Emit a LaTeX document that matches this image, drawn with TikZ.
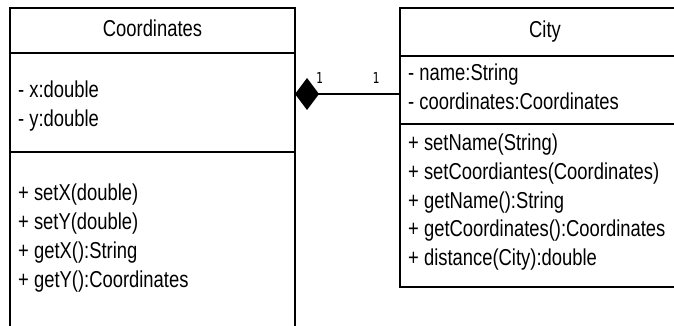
\documentclass[tikz,border=0pt]{standalone}
\usepackage{fontspec}
\setmainfont{Liberation Sans}[FakeStretch=0.8]
\newfontfamily\multfont{DejaVu Sans Mono}[FakeStretch=0.75]
\usetikzlibrary{arrows.meta}

\begin{document}
\begin{tikzpicture}[
    x=1pt, y=-1pt,
    font=\fontsize{23}{28.7}\selectfont,
    % Compartment styles
    part/.style={draw, line width=1.5pt, anchor=north west, inner sep=0pt, outer sep=0pt},
    members/.style={anchor=base west, align=left, inner sep=0pt},
    % Connector styles
    mult/.style={font=\multfont\fontsize{15}{17}\selectfont, inner sep=0pt},
    composition/.style={{Diamond[length=24pt,width=32pt]}-, line width=1.5pt}
]
\clip (0,0) rectangle (674,325);
\fill[white] (0,0) rectangle (674,325);

% --- Coordinates ---
\node[part, minimum width=285pt, minimum height=45pt, text depth=4pt] (coordTitle) at (10,8) {Coordinates};
\node[part, minimum width=285pt, minimum height=99pt] (coordAttrs) at (coordTitle.south west) {};
\node[part, minimum width=285pt, minimum height=200pt] (coordOps) at (coordAttrs.south west) {};
% base anchor sits on the last line
\node[members] (coordAttrText) at (18,126) {- x:double\\- y:double};
\node[members] (coordOpsText) at (18,287) {+ setX(double)\\+ setY(double)\\+ getX():String\\+ getY():Coordinates};

% --- City ---
\node[part, minimum width=290pt, minimum height=48pt] (cityTitle) at (400,8) {City};
\node[part, minimum width=290pt, minimum height=68pt] (cityAttrs) at (cityTitle.south west) {};
\node[part, minimum width=290pt, minimum height=163pt] (cityOps) at (cityAttrs.south west) {};
\node[members] (cityAttrText) at (408,109) {- name:String\\- coordinates:Coordinates};
\node[members] (cityOpsText) at (408,265.5) {+ setName(String)\\+ setCoordiantes(Coordinates)\\+ getName():String\\+ getCoordinates():Coordinates\\+ distance(City):double};

% --- Composition ---
\coordinate (link) at ([yshift=-4pt]cityAttrs.west);
\draw[composition] (coordAttrs.east |- link) -- (link);
\node[mult] (multCoord) at (319.5,78) {1};
\node[mult] (multCity) at (376,78) {1};

\end{tikzpicture}
\end{document}
